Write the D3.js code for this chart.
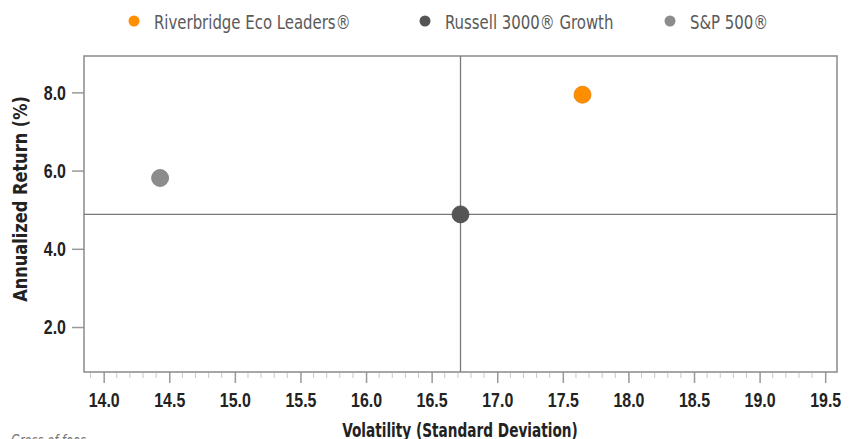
<!DOCTYPE html>
<html>
<head>
<meta charset="utf-8">
<script src="https://cdn.jsdelivr.net/npm/d3@7"></script>
<style>
  body { margin: 0; background: #fff; }
  svg { display: block; }
  .narrow { font-family: "Liberation Sans Narrow", "DejaVu Sans Condensed", "Roboto", sans-serif; }
</style>
</head>
<body>
<div class="chart"></div>
<script>
var names = ["Riverbridge Eco Leaders®", "Russell 3000® Growth", "S&P 500®"];
var volatility = [17.65, 16.72, 14.43];
var returns = [7.94, 4.88, 5.81];
var colors = ["#ff8f00", "#555555", "#8c8c8c"];
var xTicks = [14.0, 14.5, 15.0, 15.5, 16.0, 16.5, 17.0, 17.5, 18.0, 18.5, 19.0, 19.5];
var yTicks = [2.0, 4.0, 6.0, 8.0];
var benchmark = 1; // crosshair through Russell 3000 Growth

var width = 859, height = 439;
var margin = ({ top: 56, right: 22, bottom: 67, left: 84 });
var sx = 0.76; // squeeze text horizontally, no condensed face installed

var x = d3.scaleLinear()
    .domain([13.85, 19.59])
    .range([margin.left, width - margin.right]);
var y = d3.scaleLinear()
    .domain([0.85, 8.93])
    .range([height - margin.bottom, margin.top]);

var svg = d3.select(".chart")
    .append("svg")
    .attr("width", width)
    .attr("height", height)
    .attr("class", "narrow");

// minor ticks every 0.1
var minor = d3.range(139, 196).map(d => d / 10).filter(d => xTicks.indexOf(d) < 0);
svg.append("g")
    .selectAll("line")
    .data(minor)
    .enter().append("line")
    .attr("x1", d => x(d)).attr("x2", d => x(d))
    .attr("y1", height - margin.bottom + 1)
    .attr("y2", height - margin.bottom + 6)
    .attr("stroke", "#c8c8c8")
    .attr("stroke-width", 1);

var xAxis = svg.append("g")
    .attr("transform", "translate(0," + (height - margin.bottom) + ")")
    .call(d3.axisBottom(x).tickValues(xTicks).tickFormat(d3.format(".1f")).tickSize(11).tickPadding(9));
xAxis.select(".domain").remove();
xAxis.selectAll(".tick line").attr("stroke", "#999").attr("stroke-width", 1.5);
xAxis.selectAll(".tick text")
    .attr("font-family", null)
    .attr("font-size", 21)
    .attr("font-weight", "bold")
    .attr("fill", "#222")
    .attr("transform", "scale(" + sx + ",1)");

var yAxis = svg.append("g")
    .attr("transform", "translate(" + margin.left + ",0)")
    .call(d3.axisLeft(y).tickValues(yTicks).tickFormat(d3.format(".1f")).tickSize(12).tickPadding(6));
yAxis.select(".domain").remove();
yAxis.selectAll(".tick line").attr("stroke", "#999").attr("stroke-width", 1.5);
yAxis.selectAll(".tick text")
    .attr("font-family", null)
    .attr("font-size", 21)
    .attr("font-weight", "bold")
    .attr("fill", "#222")
    .attr("x", -18 / sx)
    .attr("transform", "scale(" + sx + ",1)");

// plot frame
svg.append("rect")
    .attr("x", margin.left)
    .attr("y", margin.top)
    .attr("width", width - margin.left - margin.right)
    .attr("height", height - margin.top - margin.bottom)
    .attr("fill", "none")
    .attr("stroke", "#8a8a8a")
    .attr("stroke-width", 1.5);

// crosshair through benchmark
svg.append("line")
    .attr("x1", x(volatility[benchmark])).attr("x2", x(volatility[benchmark]))
    .attr("y1", margin.top).attr("y2", height - margin.bottom)
    .attr("stroke", "#7a7a7a").attr("stroke-width", 1.3);
svg.append("line")
    .attr("x1", margin.left).attr("x2", width - margin.right)
    .attr("y1", y(returns[benchmark])).attr("y2", y(returns[benchmark]))
    .attr("stroke", "#7a7a7a").attr("stroke-width", 1.3);

// points
svg.append("g")
    .selectAll("circle")
    .data(names)
    .enter().append("circle")
    .attr("cx", (d, i) => x(volatility[i]))
    .attr("cy", (d, i) => y(returns[i]))
    .attr("r", 8.5)
    .attr("fill", (d, i) => colors[i])
    .attr("stroke", (d, i) => d3.color(colors[i]).darker(0.3))
    .attr("stroke-width", 0.8)
    .append("title")
    .text(d => d);

// legend
var legendX = [134, 425, 670];
var legend = svg.append("g")
    .selectAll("g")
    .data(names)
    .enter().append("g")
    .attr("transform", (d, i) => "translate(" + legendX[i] + ",21)");
legend.append("circle")
    .attr("r", 5.5)
    .attr("fill", (d, i) => colors[i]);
legend.append("text")
    .attr("transform", "translate(20,7.5) scale(0.83,1)")
    .attr("font-size", 20)
    .attr("fill", "#5a5a5a")
    .text(d => d);

// axis titles
svg.append("text")
    .attr("transform", "translate(460,437) scale(0.76,1)")
    .attr("text-anchor", "middle")
    .attr("font-size", 20)
    .attr("font-weight", "bold")
    .attr("fill", "#222")
    .text("Volatility (Standard Deviation)");

svg.append("text")
    .attr("transform", "translate(27,199) rotate(-90) scale(0.9,1)")
    .attr("text-anchor", "middle")
    .attr("font-size", 20)
    .attr("font-weight", "bold")
    .attr("fill", "#222")
    .text("Annualized Return (%)");

svg.append("text")
    .attr("transform", "translate(11,446) scale(0.85,1)")
    .attr("font-size", 15)
    .attr("font-style", "italic")
    .attr("fill", "#777")
    .text("Gross of fees");
</script>
</body>
</html>
